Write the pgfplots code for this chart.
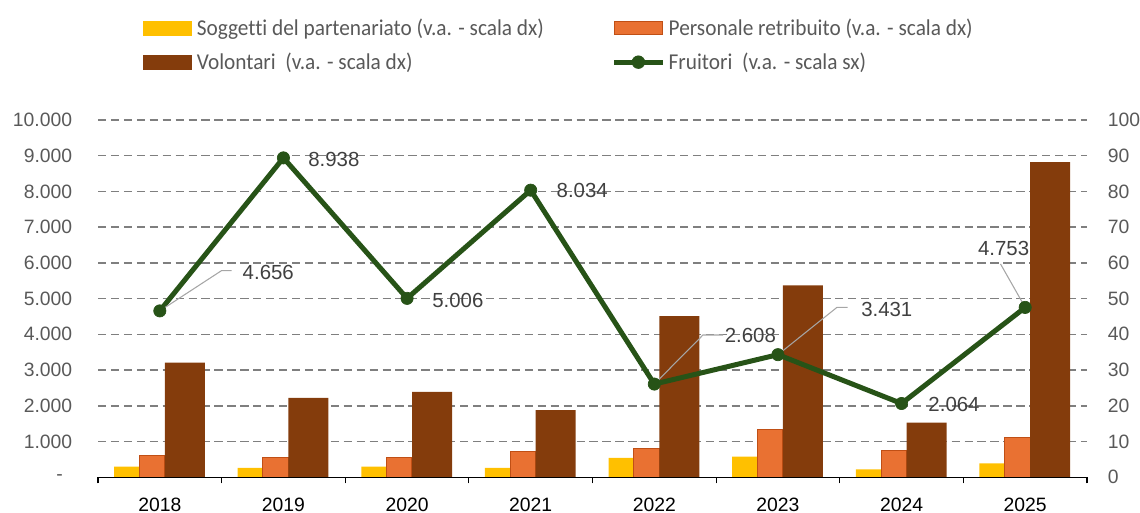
\documentclass[border=0pt]{standalone}
\usepackage{pgfplots}
\pgfplotsset{compat=1.18}
\usepackage{pgfplotstable}
\usepackage{fontspec}
\setmainfont{Liberation Sans}
\newfontfamily\legfont[FakeStretch=0.94, Ligatures=NoCommon]{Carlito}
\definecolor{cSog}{HTML}{FFC000}
\definecolor{cPer}{HTML}{E97132}
\definecolor{cPerB}{HTML}{C04F15}
\definecolor{cVol}{HTML}{843C0C}
\definecolor{cFru}{HTML}{275317}
\definecolor{cGrid}{HTML}{7F7F7F}
\definecolor{cTick}{HTML}{595959}
\definecolor{cLab}{HTML}{404040}

\pgfplotstableread{
x sog per vol
0 3.0 6.0 32.1
1 2.6 5.6 22.2
2 3.0 5.6 23.9
3 2.6 7.3 18.8
4 5.4 8.0 45.1
5 5.8 13.4 53.7
6 2.2 7.6 15.3
7 3.9 11.0 88.2
}\bars

\pgfplotstableread{
x fru
0 4656
1 8938
2 5006
3 8034
4 2608
5 3431
6 2064
7 4753
}\fru

\begin{document}
\begin{tikzpicture}
% ---------- bars, right scale ----------
\begin{axis}[
  scale only axis, width=741.75pt, height=268pt,
  at={(73.5pt,26.8pt)}, anchor=south west,
  xmin=-0.5, xmax=7.5, ymin=0, ymax=100,
  axis line style={draw=none},
  ytick={0,10,...,100},
  yticklabels={0,10,20,30,40,50,60,70,80,90,100},
  ytick pos=right, yticklabel pos=right,
  yticklabel style={anchor=west, inner sep=0pt, xshift=15.5pt, font=\fontsize{14.5}{14.5}\selectfont, text=cTick},
  ymajorgrids,
  grid style={cGrid, line width=1.1pt, dash pattern=on 6.2pt off 3.5pt},
  xtick={0,...,7},
  xticklabels={2018,2019,2020,2021,2022,2023,2024,2025},
  xtick pos=left,
  xticklabel style={anchor=north, inner sep=0pt, yshift=-15pt, font=\fontsize{14.5}{14.5}\selectfont, text=black},
  minor xtick={-0.5,0.5,...,7.5},
  major tick length=0pt, minor tick length=4.5pt, tick align=outside,
  minor tick style={black, line width=0.9pt},
  major tick style={draw=none},
]
\addplot[ybar, bar width=0.202, bar shift=-0.269, fill=cSog, draw=none] table[x=x,y=sog]{\bars};
\addplot[ybar, bar width=0.206, bar shift=-0.063, fill=cPer, draw=cPerB, line width=0.8pt] table[x=x,y=per]{\bars};
\addplot[ybar, bar width=0.324, bar shift=0.202, fill=cVol, draw=none] table[x=x,y=vol]{\bars};
\draw[black, line width=0.9pt] (rel axis cs:0,0) -- (rel axis cs:1,0);
\end{axis}
% ---------- line, left scale ----------
\begin{axis}[
  scale only axis, width=741.75pt, height=268pt,
  at={(73.5pt,26.8pt)}, anchor=south west,
  xmin=-0.5, xmax=7.5, ymin=0, ymax=10000,
  axis line style={draw=none},
  xtick=\empty,
  scaled y ticks=false,
  ytick={0,1000,...,10000},
  yticklabels={{-\hspace*{7pt}},1.000,2.000,3.000,4.000,5.000,6.000,7.000,8.000,9.000,10.000},
  ytick pos=left,
  yticklabel style={anchor=east, inner sep=0pt, xshift=-19.2pt, font=\fontsize{14.5}{14.5}\selectfont, text=cTick},
  major tick length=0pt,
  clip=false,
  legend columns=2,
  legend cell align=left,
  legend style={draw=none, fill=none, inner sep=0pt, outer sep=0pt,
    at={(axis description cs:0.0455,1.2835)}, anchor=north west,
    font=\legfont\fontsize{17}{17}\selectfont, text=cTick,
    nodes={inner sep=0pt},
    row sep=11.75pt,
    /tikz/every even column/.append style={column sep=50.75pt}},
]
\addlegendimage{legend image code/.code={\fill[cSog] (0pt,-5.25pt) rectangle (35.75pt,5.25pt); \path (40pt,0pt);}}
\addlegendentry{Soggetti del partenariato (v.a. - scala dx)}
\addlegendimage{legend image code/.code={\filldraw[fill=cPer, draw=cPerB, line width=0.8pt] (0.4pt,-4.85pt) rectangle (36.1pt,4.85pt); \path (40.75pt,0pt);}}
\addlegendentry{Personale retribuito (v.a. - scala dx)}
\addlegendimage{legend image code/.code={\fill[cVol] (0pt,-5pt) rectangle (35.75pt,5pt); \path (40pt,0pt);}}
\addlegendentry{Volontari\ \ (v.a. - scala dx)}
\addlegendimage{legend image code/.code={\draw[cFru, line width=3.75pt] (0pt,0pt) -- (36.5pt,0pt); \fill[cFru] (18.25pt,0pt) circle (4.8pt); \path (40.75pt,0pt);}}
\addlegendentry{Fruitori\ \ (v.a. - scala sx)}

\addplot[cFru, line width=3.75pt, mark=*, mark size=4.6pt,
  mark options={solid, fill=cFru, draw=cFru, line width=0.5pt}, forget plot]
  table[x=x,y=fru]{\fru};

% leader lines
\draw[gray!70, line width=0.8pt] (axis cs:0,4656) -- ++(46.3pt,30.2pt) -- ++(7.5pt,0pt);
\draw[gray!70, line width=0.8pt] (axis cs:4,2608) -- ++(36.5pt,36.8pt) -- ++(15.2pt,0pt);
\draw[gray!70, line width=0.8pt] (axis cs:5,3431) -- ++(44.3pt,35.5pt) -- ++(8pt,0pt);
\draw[gray!70, line width=0.8pt] (axis cs:7,4753) -- ++(-18.5pt,32.6pt);

% data labels
\begin{scope}[every node/.style={anchor=west, inner sep=0pt, text=cLab, font=\fontsize{15.3}{15.3}\selectfont}]
\node[xshift=62pt, yshift=29pt] at (axis cs:0,4656) {4.656};
\node[xshift=18.5pt, yshift=-1pt] at (axis cs:1,8938) {8.938};
\node[xshift=18.75pt, yshift=-1.2pt] at (axis cs:2,5006) {5.006};
\node[xshift=19.3pt, yshift=0pt] at (axis cs:3,8034) {8.034};
\node[xshift=52.7pt, yshift=36.8pt] at (axis cs:4,2608) {2.608};
\node[xshift=62.3pt, yshift=34pt] at (axis cs:5,3431) {3.431};
\node[xshift=20pt, yshift=-1pt] at (axis cs:6,2064) {2.064};
\node[xshift=-35.5pt, yshift=43.9pt] at (axis cs:7,4753) {4.753};
\end{scope}
\end{axis}
\pgfresetboundingbox
\path[use as bounding box] (0pt,0pt) rectangle (855pt,384.75pt);
\end{tikzpicture}
\end{document}
